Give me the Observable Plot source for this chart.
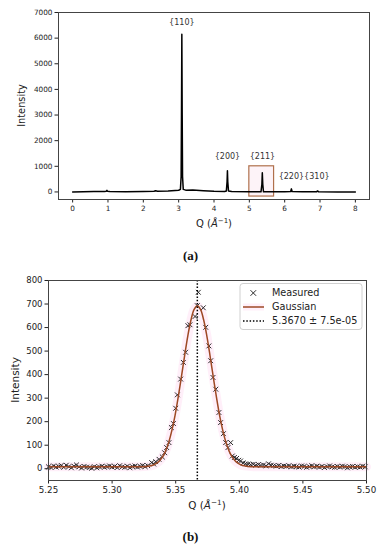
<!DOCTYPE html>
<html>
<head>
<meta charset="utf-8">
<script src="https://cdn.jsdelivr.net/npm/d3@7"></script>
<script src="https://cdn.jsdelivr.net/npm/@observablehq/plot@0.6"></script>
<style>
  html, body { margin: 0; padding: 0; background: white; }
  #wrap { width: 381px; }
  .cap { width: 381px; height: 35px; box-sizing: border-box; text-align: center;
         font-family: "Liberation Serif", serif; font-weight: bold; font-size: 13px; color: #111;
         line-height: 28px; }
  svg { display: block; }
</style>
</head>
<body>
<div id="wrap">
  <div id="top"></div>
  <div class="cap" style="padding-top:7px">(a)</div>
  <div id="bottom"></div>
  <div class="cap" style="padding-top:8px">(b)</div>
</div>
<script>
// ---------- Panel (a): full diffraction pattern ----------
const xrdQ = [0, 0.3, 0.6, 0.9, 0.95, 0.97, 0.99, 1.05, 1.5, 2.0, 2.3, 2.35, 2.4, 2.7, 2.9, 3.0, 3.05, 3.07, 3.08, 3.09, 3.10, 3.11, 3.13, 3.2, 3.4, 3.7, 4.0, 4.3, 4.35, 4.37, 4.38, 4.39, 4.41, 4.5, 5.0, 5.33, 5.355, 5.367, 5.38, 5.40, 6.0, 6.17, 6.19, 6.21, 6.5, 6.9, 6.93, 6.96, 7.5, 8.0];
const xrdI = [0, 5, 15, 18, 25, 60, 22, 15, 10, 15, 25, 45, 30, 40, 55, 65, 100, 600, 3000, 6150, 3000, 600, 100, 70, 75, 50, 25, 20, 40, 400, 830, 400, 40, 15, 5, 5, 300, 750, 300, 5, 5, 15, 120, 15, 5, 5, 40, 5, 0, 0];

const peakLabels = ["{110}", "{200}", "{211}", "{220}{310}"];
const peakLabelQ = [3.09, 4.38, 5.37, 6.55];
const peakLabelI = [6600, 1400, 1400, 590];

const zoomBoxQ = [5.0, 5.7];
const zoomBoxI = [-180, 1000];

const xTicksA = [0, 1, 2, 3, 4, 5, 6, 7, 8];
const yTicksA = [0, 1000, 2000, 3000, 4000, 5000, 6000, 7000];

// ---------- Panel (b): {211} peak with Gaussian fit ----------
const measQ = [
  5.250,5.252,5.254,5.256,5.258,5.260,5.262,5.264,5.266,5.268,
  5.270,5.272,5.274,5.276,5.278,5.280,5.282,5.284,5.286,5.288,
  5.290,5.292,5.294,5.296,5.298,5.300,5.302,5.304,5.306,5.308,
  5.310,5.312,5.314,5.316,5.318,5.320,5.322,5.324,5.326,5.328,
  5.3311,5.3327,5.3343,5.3369,5.3395,5.3413,5.3429,5.3447,5.3466,5.3482,
  5.3500,5.3513,5.3539,5.3560,5.3578,5.3596,5.3612,5.3652,5.3670,5.3678,
  5.3717,5.3736,5.3761,5.3775,5.3793,5.3815,5.3840,5.3853,5.3875,5.3893,
  5.3911,5.3932,5.3945,5.3962,5.3979,5.3995,5.4010,5.4030,5.4050,
  5.407,5.409,5.411,5.413,5.415,5.417,5.419,5.421,5.423,5.425,
  5.427,5.429,5.431,5.433,5.435,5.437,5.439,5.441,5.443,5.445,
  5.447,5.449,5.451,5.453,5.455,5.457,5.459,5.461,5.463,5.465,
  5.467,5.469,5.471,5.473,5.475,5.477,5.479,5.481,5.483,5.485,
  5.487,5.489,5.491,5.493,5.495,5.497,5.499
];
const measI = [
  8,5,12,7,10,14,6,15,9,4,
  11,16,8,3,10,7,5,2,9,4,
  8,11,6,9,12,7,10,5,13,8,
  6,11,4,9,12,7,10,14,9,13,
  26,20,30,40,50,68,90,111,175,192,
  257,314,381,452,495,608,612,647,693,750,
  684,601,522,459,388,338,239,196,149,111,
  90,111,54,48,44,36,33,25,21,
  20,17,19,15,18,14,16,12,21,15,
  13,11,14,9,12,10,13,8,11,9,
  7,12,10,6,9,13,8,11,7,10,
  5,9,12,8,6,10,7,11,9,4,
  8,10,6,9,7,11,8
];

const gaussQ = [5.250, 5.300, 5.322, 5.327, 5.3295, 5.332, 5.3345, 5.337, 5.3395, 5.342, 5.3445, 5.347, 5.3495, 5.352, 5.3545, 5.357, 5.3595, 5.362, 5.3645, 5.367, 5.3695, 5.372, 5.3745, 5.377, 5.3795, 5.382, 5.3845, 5.387, 5.3895, 5.392, 5.3945, 5.397, 5.3995, 5.402, 5.4045, 5.407, 5.412, 5.450, 5.500];
const gaussI = [8, 8, 8.5, 10, 12, 15, 22, 32, 49, 75, 112, 163, 227, 305, 391, 480, 564, 632, 677, 693, 677, 632, 564, 480, 391, 305, 227, 163, 112, 75, 49, 32, 22, 15, 12, 10, 8.5, 8, 8];

const peakCentre = [5.3670];
const legendLabels = ["Measured", "Gaussian", "5.3670 ± 7.5e-05"];

const xTicksB = [5.25, 5.30, 5.35, 5.40, 5.45, 5.50];
const yTicksB = [0, 100, 200, 300, 400, 500, 600, 700, 800];

const FONT = "DejaVu Sans";
const INK = "#222";
const GAUSS = "#9e4824";

const xrd = xrdQ.map((q, i) => ({q, v: xrdI[i]}));
const lbl = peakLabels.map((t, i) => ({t, q: peakLabelQ[i], v: peakLabelI[i]}));
const meas = measQ.map((q, i) => ({q, v: measI[i]}));
const gauss = gaussQ.map((q, i) => ({q, v: gaussI[i]}));

function qLabel(svg, x, y, size) {
  const t = d3.select(svg).append("text")
    .attr("x", x).attr("y", y).attr("text-anchor", "middle")
    .attr("font-family", FONT).attr("font-size", size).attr("fill", INK);
  t.append("tspan").text("Q (");
  t.append("tspan").attr("font-style", "italic").text("Å");
  t.append("tspan").attr("font-size", size * 0.7).attr("dy", -size * 0.42).text("−1");
  t.append("tspan").attr("dy", size * 0.42).text(")");
}
function yLabel(svg, x, y, size) {
  d3.select(svg).append("text")
    .attr("transform", `translate(${x},${y}) rotate(-90)`)
    .attr("text-anchor", "middle").attr("dy", "0.35em")
    .attr("font-family", FONT).attr("font-size", size).attr("fill", INK)
    .text("Intensity");
}

// ---------- draw (a) ----------
const plotA = Plot.plot({
  width: 381, height: 235,
  marginTop: 12, marginBottom: 36, marginLeft: 58, marginRight: 12,
  style: {background: "white", color: INK, fontFamily: FONT},
  x: {domain: [-0.4, 8.4]},
  y: {domain: [-295, 7000]},
  marks: [
    Plot.rect([0], {x1: () => zoomBoxQ[0], x2: () => zoomBoxQ[1], y1: () => zoomBoxI[0], y2: () => zoomBoxI[1],
      fill: "#fbe4f0", fillOpacity: 0.45, stroke: "#b0704c", strokeWidth: 1.2}),
    Plot.line(xrd, {x: "q", y: "v", stroke: "black", strokeWidth: 1.5}),
    Plot.text(lbl, {x: "q", y: "v", text: "t", fontSize: 8, fill: "#333", fontFamily: FONT}),
    Plot.axisX({ticks: xTicksA, tickSize: 3.5, tickPadding: 2.5, fontSize: 7.3, label: null, tickFormat: d => String(d)}),
    Plot.axisY({ticks: yTicksA, tickSize: 3.5, tickPadding: 2.5, fontSize: 7.3, label: null, tickFormat: d => String(d)}),
    Plot.frame({stroke: "#444", strokeWidth: 1})
  ]
});
qLabel(plotA, 214, 227, 10);
yLabel(plotA, 21.5, 105.5, 9.8);
document.getElementById("top").appendChild(plotA);

// ---------- draw (b) ----------
const plotB = Plot.plot({
  width: 381, height: 245,
  marginTop: 10, marginBottom: 35, marginLeft: 48, marginRight: 15,
  style: {background: "white", color: INK, fontFamily: FONT},
  x: {domain: [5.25, 5.50]},
  y: {domain: [-50, 800]},
  marks: [
    Plot.line(gauss, {x: "q", y: "v", stroke: "#ff5fc0", strokeWidth: 9, strokeOpacity: 0.1, curve: "catmull-rom"}),
    Plot.dot(meas, {x: "q", y: "v", symbol: "times", r: 2.3, stroke: "#2a2a2a", strokeWidth: 1}),
    Plot.line(gauss, {x: "q", y: "v", stroke: GAUSS, strokeWidth: 1.5, curve: "catmull-rom"}),
    Plot.ruleX(peakCentre, {stroke: "black", strokeWidth: 1.5, strokeDasharray: "1.5,1.8"}),
    Plot.axisX({ticks: xTicksB, tickSize: 3.5, tickPadding: 2.5, fontSize: 8.7, label: null, tickFormat: d3.format(".2f")}),
    Plot.axisY({ticks: yTicksB, tickSize: 3.5, tickPadding: 2.5, fontSize: 8.5, label: null, tickFormat: d => String(d)}),
    Plot.frame({stroke: "#444", strokeWidth: 1})
  ]
});
qLabel(plotB, 207, 239, 10.4);
yLabel(plotB, 15, 110, 10.5);

// legend (b)
{
  const g = d3.select(plotB).append("g").attr("font-family", FONT).attr("font-size", 9.7)
    .attr("fill", INK).attr("text-anchor", "start");
  g.append("rect").attr("x", 240).attr("y", 13.5).attr("width", 122).attr("height", 46)
    .attr("rx", 3).attr("fill", "white").attr("fill-opacity", 0.85).attr("stroke", "#d0d0d0");
  const rows = [23, 37, 51];
  g.append("path").attr("d", `M250.5,${rows[0]-2.8}L256.1,${rows[0]+2.8}M250.5,${rows[0]+2.8}L256.1,${rows[0]-2.8}`)
    .attr("stroke", "#2a2a2a").attr("stroke-width", 1);
  g.append("line").attr("x1", 243).attr("x2", 264).attr("y1", rows[1]).attr("y2", rows[1])
    .attr("stroke", "#ff5fc0").attr("stroke-opacity", 0.1).attr("stroke-width", 7);
  g.append("line").attr("x1", 243).attr("x2", 264).attr("y1", rows[1]).attr("y2", rows[1])
    .attr("stroke", GAUSS).attr("stroke-width", 1.5);
  g.append("line").attr("x1", 243).attr("x2", 264).attr("y1", rows[2]).attr("y2", rows[2])
    .attr("stroke", "black").attr("stroke-width", 1.5).attr("stroke-dasharray", "1.5,1.8");
  legendLabels.forEach((t, i) => {
    g.append("text").attr("x", 272).attr("y", rows[i]).attr("dy", "0.35em")
      .attr("text-anchor", "start").text(t);
  });
}
document.getElementById("bottom").appendChild(plotB);
</script>
</body>
</html>
